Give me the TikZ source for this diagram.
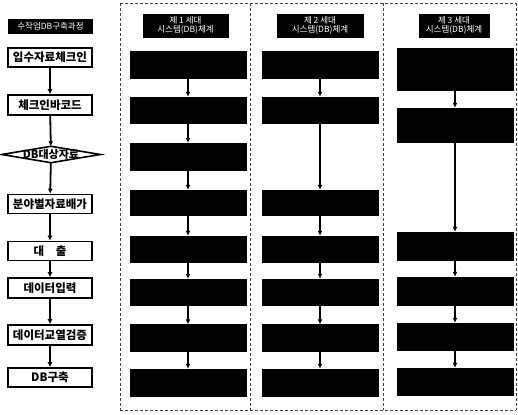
\documentclass[tikz,border=0pt]{standalone}
\usepackage{fontspec}
\newfontfamily\kr{Noto Sans CJK KR}
\usetikzlibrary{shapes.geometric,arrows.meta}
\begin{document}
\begin{tikzpicture}[x=1pt,y=-1pt,
  lbox/.style={draw, line width=1.6pt, minimum width=84pt, minimum height=19pt, inner sep=0pt, font=\kr\bfseries\fontsize{11.5}{13}\selectfont},
  ldia/.style={minimum width=98pt, minimum height=16pt, inner sep=0pt, font=\kr\bfseries\fontsize{11}{13}\selectfont},
  bbox/.style={fill=black, draw=black, minimum width=116pt, inner sep=0pt},
  hbox/.style={fill=black, draw=black, inner sep=0pt, minimum height=23pt, text=white, align=center, font=\kr\fontsize{8.5}{9.5}\selectfont},
  arr/.style={-{Latex[length=5pt,width=5pt]}, line width=1.8pt},
  frame/.style={densely dashed, line width=0.7pt, black!75}
]
\useasboundingbox (0,0) rectangle (518,414);
% dashed frame
\draw[frame] (120,3) -- (516,3);
\draw[frame] (120,410) -- (516,410);
\draw[frame] (120,3) -- (120,410);
\draw[frame] (250,3) -- (250,410);
\draw[frame] (383,3) -- (383,410);
\draw[frame] (516,3) -- (516,410);

% left column
\node[fill=black, minimum width=85pt, minimum height=15pt, inner sep=0pt, text=white, font=\kr\fontsize{8.5}{10}\selectfont] (t0) at (50.5,26.5) {수작업DB구축과정};
\node[lbox] (a1) at (50,57.5) {입수자료체크인};
\node[lbox, minimum height=20pt] (a2) at (50,105) {체크인바코드};
\node[ldia] (a3) at (51,154.5) {DB대상자료};
\draw[line width=1.6pt, line join=miter] (a3.west) -- (a3.north) -- (a3.east) -- (a3.south) -- cycle;
\node[lbox] (a4) at (50,204) {분야별자료배가};
\node[lbox] (a5) at (50,251) {대\quad 출};
\node[lbox, minimum height=20pt] (a6) at (50,288) {데이터입력};
\node[lbox, minimum height=20pt] (a7) at (50,335) {데이터교열검증};
\node[lbox] (a8) at (50,377.5) {DB구축};
\foreach \i/\j in {a1/a2,a2/a3,a3/a4,a4/a5,a5/a6,a6/a7,a7/a8}
  \draw[arr] (\i) -- (\j);

% column 1
\node[hbox, minimum width=85pt] (h1) at (185.5,25.5) {제 1 세대\\시스템(DB)체계};
\node[bbox, minimum height=27pt] (c1) at (188,64.5) {};
\node[bbox, minimum height=26pt] (c2) at (188,110) {};
\node[bbox, minimum height=27pt] (c3) at (188,156.5) {};
\node[bbox, minimum height=25pt] (c4) at (188,202.5) {};
\node[bbox, minimum height=26pt] (c5) at (188,249) {};
\node[bbox, minimum height=26pt] (c6) at (188,292) {};
\node[bbox, minimum height=27pt] (c7) at (188,338) {};
\node[bbox, minimum height=27pt] (c8) at (188,382.5) {};
\foreach \i/\j in {c1/c2,c2/c3,c3/c4,c4/c5,c5/c6,c6/c7,c7/c8}
  \draw[arr] (\i) -- (\j);

% column 2
\node[hbox, minimum width=86pt] (h2) at (320,25.5) {제 2 세대\\시스템(DB)체계};
\node[bbox, minimum height=27pt] (d1) at (320,64.5) {};
\node[bbox, minimum height=26pt] (d2) at (320,110) {};
\node[bbox, minimum height=25pt] (d4) at (320,202.5) {};
\node[bbox, minimum height=26pt] (d5) at (320,249) {};
\node[bbox, minimum height=26pt] (d6) at (320,292) {};
\node[bbox, minimum height=27pt] (d7) at (320,338) {};
\node[bbox, minimum height=27pt] (d8) at (320,382.5) {};
\foreach \i/\j in {d1/d2,d2/d4,d4/d5,d5/d6,d6/d7,d7/d8}
  \draw[arr] (\i) -- (\j);

% column 3
\node[hbox, minimum width=70pt] (h3) at (454,25.5) {제 3 세대\\시스템(DB)체계};
\node[bbox, minimum height=42pt] (e1) at (455,69) {};
\node[bbox, minimum height=34pt] (e2) at (455,125) {};
\node[bbox, minimum height=28pt] (e5) at (455,246) {};
\node[bbox, minimum height=28pt] (e6) at (455,291) {};
\node[bbox, minimum height=27pt] (e7) at (455,336.5) {};
\node[bbox, minimum height=27pt] (e8) at (455,381.5) {};
\foreach \i/\j in {e1/e2,e2/e5,e5/e6,e6/e7,e7/e8}
  \draw[arr] (\i) -- (\j);
\end{tikzpicture}
\end{document}
